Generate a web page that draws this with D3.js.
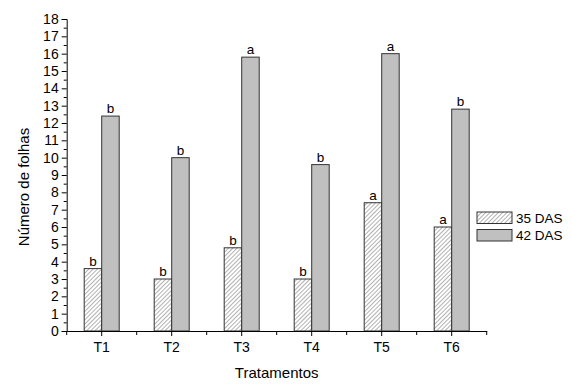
<!DOCTYPE html>
<html>
<head>
<meta charset="utf-8">
<script src="https://cdn.jsdelivr.net/npm/d3@7"></script>
<style>
  body { margin: 0; background: #fff; }
  svg text { font-family: Arial, "Liberation Sans", sans-serif; fill: #000; }
</style>
</head>
<body>
<svg id="chart" width="572" height="385"></svg>
<script>
const categories = ['T1', 'T2', 'T3', 'T4', 'T5', 'T6'];
const series = ['35 DAS', '42 DAS'];
const das35 = [3.6, 3.0, 4.8, 3.0, 7.4, 6.0];
const das42 = [12.4, 10.0, 15.8, 9.6, 16.0, 12.8];
const letters35 = ['b', 'b', 'b', 'b', 'a', 'a'];
const letters42 = ['b', 'b', 'a', 'b', 'a', 'b'];
const yTicks = d3.range(0, 19, 1);

const sv = d3.select('#chart');
const ma = { left: 66.7, right: 85.3, top: 19, bottom: 54 };
const wi = 572 - ma.left - ma.right;
const he = 385 - ma.top - ma.bottom;
const gr = sv.append('g').attr('transform', `translate(${ma.left},${ma.top})`);

const defs = sv.append('defs');
const pat = defs.append('pattern')
  .attr('id', 'hatch')
  .attr('patternUnits', 'userSpaceOnUse')
  .attr('width', 3).attr('height', 3)
  .attr('patternTransform', 'rotate(45)');
pat.append('rect').attr('width', 3).attr('height', 3).attr('fill', '#fff');
pat.append('line').attr('x1', 0).attr('y1', 0).attr('x2', 0).attr('y2', 3)
  .attr('stroke', '#555').attr('stroke-width', 0.9);

const x0 = d3.scaleBand().domain(categories).range([0, wi]);
const x1 = d3.scaleBand().domain(series).range([x0.bandwidth() * 0.25, x0.bandwidth() * 0.75]);
const y = d3.scaleLinear().domain([0, 18]).range([he, 0]);
const fills = { '35 DAS': 'url(#hatch)', '42 DAS': '#c0c0c0' };

const data = categories.map((c, i) => ({
  cat: c,
  bars: [
    { s: '35 DAS', v: das35[i], l: letters35[i] },
    { s: '42 DAS', v: das42[i], l: letters42[i] }
  ]
}));

const grp = gr.selectAll('.cat').data(data).enter().append('g')
  .attr('transform', d => `translate(${x0(d.cat)},0)`);

grp.selectAll('rect').data(d => d.bars).enter().append('rect')
  .attr('x', d => x1(d.s))
  .attr('y', d => y(d.v))
  .attr('width', x1.bandwidth())
  .attr('height', d => he - y(d.v))
  .attr('fill', d => fills[d.s])
  .attr('stroke', '#333')
  .attr('stroke-width', 1);

grp.selectAll('text.lt').data(d => d.bars).enter().append('text')
  .attr('class', 'lt')
  .attr('x', d => x1(d.s) + x1.bandwidth() / 2)
  .attr('y', d => y(d.v) - 3)
  .attr('text-anchor', 'middle')
  .style('font-size', '13.5px')
  .text(d => d.l);

// y axis: major ticks every 1, minor at halves
const yMinor = d3.range(0.5, 18, 1);
gr.append('g')
  .call(d3.axisLeft(y).tickValues(yMinor).tickSize(3).tickFormat(''))
  .call(g => g.select('.domain').remove());
const yAx = gr.append('g')
  .call(d3.axisLeft(y).tickValues(yTicks).tickSize(5).tickPadding(3).tickFormat(d3.format('d')));
yAx.selectAll('text').style('font-size', '14px');

// x axis
const xAx = gr.append('g')
  .attr('transform', `translate(0,${he})`)
  .call(d3.axisBottom(x0).tickSize(5).tickSizeOuter(0).tickPadding(6));
xAx.selectAll('text').style('font-size', '14px');
gr.append('g')
  .attr('transform', `translate(0,${he})`)
  .selectAll('line').data(d3.range(0, categories.length + 1)).enter().append('line')
  .attr('x1', d => d * x0.step()).attr('x2', d => d * x0.step())
  .attr('y1', 0).attr('y2', 4)
  .attr('stroke', '#000');
gr.selectAll('.domain').attr('stroke', '#000');

gr.append('text')
  .attr('x', wi / 2)
  .attr('y', he + 47)
  .attr('text-anchor', 'middle')
  .style('font-size', '15px')
  .text('Tratamentos');

gr.append('text')
  .attr('transform', 'rotate(-90)')
  .attr('x', -(he / 2 + 12))
  .attr('y', -38)
  .attr('text-anchor', 'middle')
  .style('font-size', '15px')
  .text('Número de folhas');

// legend
const le = sv.append('g').attr('transform', 'translate(477,212)');
const li = le.selectAll('g').data(series).enter().append('g')
  .attr('transform', (d, i) => `translate(0,${i * 17.5})`);
li.append('rect')
  .attr('width', 35).attr('height', 11.5)
  .attr('fill', d => fills[d])
  .attr('stroke', '#333');
li.append('text')
  .attr('x', 39).attr('y', 6)
  .attr('dy', '0.35em')
  .style('font-size', '13.5px')
  .text(d => d);
</script>
</body>
</html>
